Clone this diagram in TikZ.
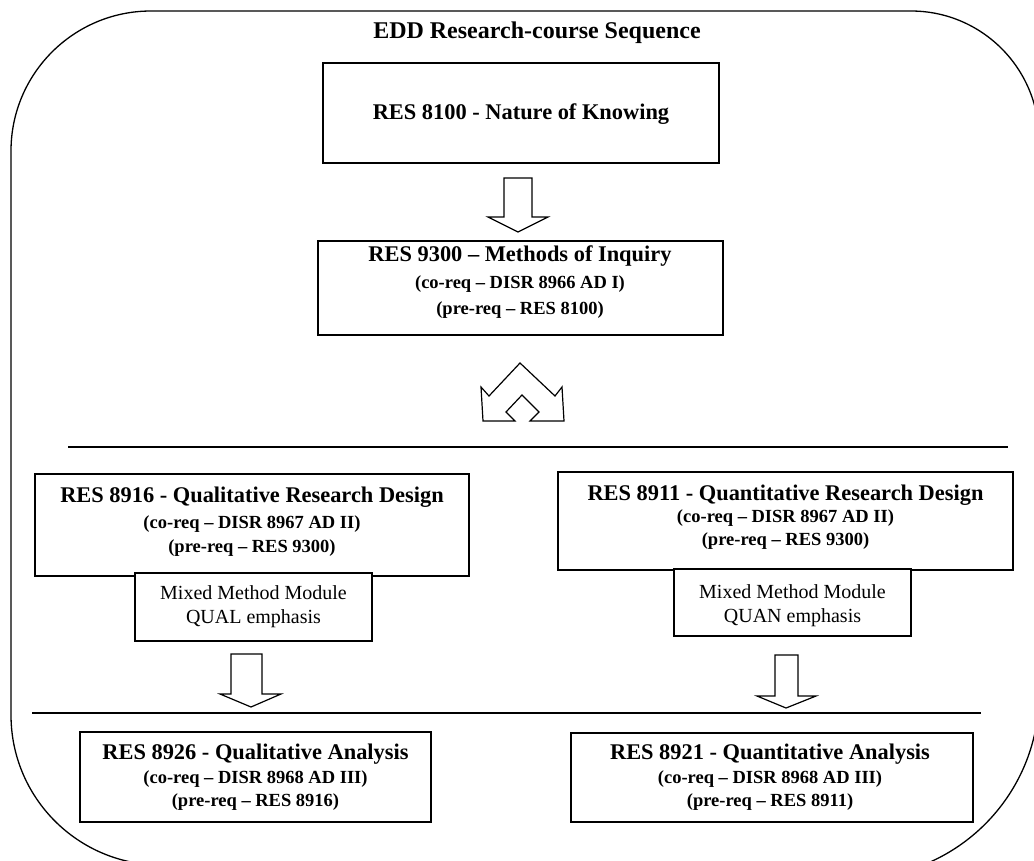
\documentclass[tikz,border=0pt]{standalone}
\usepackage{fontspec}
\setmainfont{Liberation Serif}
\begin{document}
\begin{tikzpicture}[x=1pt,y=-1pt,
  box/.style={draw, line width=1.5pt, fill=white, inner sep=0pt},
  ttl/.style={font=\fontsize{24}{28}\selectfont\bfseries},
  big/.style={font=\fontsize{22.4}{27}\selectfont\bfseries, inner sep=0pt},
  small/.style={font=\fontsize{18.5}{22}\selectfont\bfseries, inner sep=0pt},
  mm/.style={font=\fontsize{20}{24}\selectfont, inner sep=0pt},
  blockarrow/.style={draw, line width=1.2pt, fill=white, line join=miter},
  hline/.style={line width=1.8pt}]
\useasboundingbox (0,0) rectangle (1034,860);
% outer frame (partly cut by the page edge)
\draw[line width=1.3pt] (11,151) arc[start angle=180, end angle=270, radius=140]
  -- (911,11) arc[start angle=270, end angle=360, radius=128]
  -- (1039,694) arc[start angle=0, end angle=90, radius=184]
  -- (161,865) arc[start angle=90, end angle=180, radius=150] -- cycle;
\node[ttl] (title) at (537,33) {EDD Research-course Sequence};
% box 1
\node[box, minimum width=396pt, minimum height=100pt] (b1) at (521,113) {};
\node[big] (t1) at (521,114) {RES 8100 - Nature of Knowing};
% arrow 1
\draw[blockarrow] (504,178) -- (532,178) -- (532,217) -- (548,217) -- (518,232) -- (488,217) -- (504,217) -- cycle;
% box 2
\node[box, minimum width=405pt, minimum height=94pt] (b2) at (520.5,288) {};
\node[big] (t2a) at (520,256) {RES 9300 – Methods of Inquiry};
\node[small] (t2b) at (520,284) {(co-req – DISR 8966 AD I)};
\node[small] (t2c) at (520,310) {(pre-req – RES 8100)};
% split arrow
\draw[blockarrow] (483,421) -- (481,387) -- (489,396) -- (520,363) -- (555,396) -- (562,387) -- (564,421) -- (530,421) -- (539,412) -- (522,395) -- (506,412) -- (515,421) -- cycle;
% line 1
\coordinate (l1a) at (68,447);
\coordinate (l1b) at (1008,447);
\draw[hline] (l1a) -- (l1b);
% box 3
\node[box, minimum width=434pt, minimum height=102pt] (b3) at (252,525) {};
\node[big] (t3a) at (252,497) {RES 8916 - Qualitative Research Design};
\node[small] (t3b) at (252,524) {(co-req – DISR 8967 AD II)};
\node[small] (t3c) at (252,548) {(pre-req – RES 9300)};
\node[box, minimum width=237pt, minimum height=68pt] (s3) at (253.5,607) {};
\node[mm, align=center] (m3) at (253.5,607) {Mixed Method Module\\QUAL emphasis};
% box 4
\node[box, minimum width=455pt, minimum height=98pt] (b4) at (785.5,521) {};
\node[big] (t4a) at (785.5,495) {RES 8911 - Quantitative Research Design};
\node[small] (t4b) at (785.5,518) {(co-req – DISR 8967 AD II)};
\node[small] (t4c) at (785.5,541) {(pre-req – RES 9300)};
\node[box, minimum width=237pt, minimum height=67pt] (s4) at (792.5,602.5) {};
\node[mm, align=center] (m4) at (792.5,606) {Mixed Method Module\\QUAN emphasis};
% arrows down
\draw[blockarrow] (231,654) -- (262,654) -- (262,694) -- (281,694) -- (251,707) -- (220,694) -- (231,694) -- cycle;
\draw[blockarrow] (775,655) -- (798,655) -- (798,696) -- (816,696) -- (786,708) -- (757,696) -- (775,696) -- cycle;
% line 2
\coordinate (l2a) at (32,713);
\coordinate (l2b) at (981,713);
\draw[hline] (l2a) -- (l2b);
% box 5
\node[box, minimum width=351pt, minimum height=90pt] (b5) at (255.5,777) {};
\node[big] (t5a) at (255.5,754) {RES 8926 - Qualitative Analysis};
\node[small] (t5b) at (255.5,779) {(co-req – DISR 8968 AD III)};
\node[small] (t5c) at (255.5,802) {(pre-req – RES 8916)};
% box 6
\node[box, minimum width=402pt, minimum height=89pt] (b6) at (772,777.5) {};
\node[big] (t6a) at (770,754) {RES 8921 - Quantitative Analysis};
\node[small] (t6b) at (770,779) {(co-req – DISR 8968 AD III)};
\node[small] (t6c) at (770,802) {(pre-req – RES 8911)};
\end{tikzpicture}
\end{document}
